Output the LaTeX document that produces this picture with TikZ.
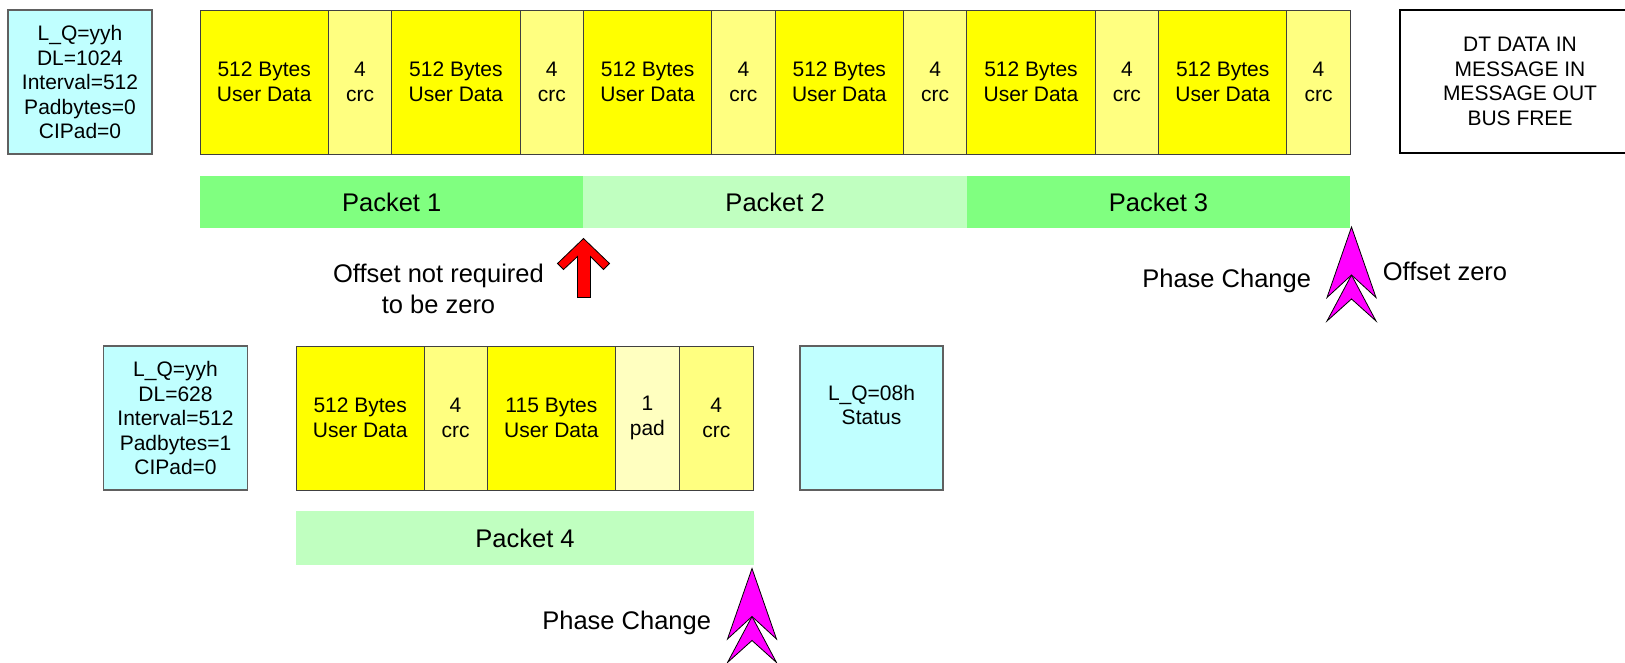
\documentclass[tikz,border=0pt]{standalone}
\usepackage{fontspec}
\setmainfont{Liberation Sans}
\definecolor{cyanbox}{HTML}{C0FFFF}
\definecolor{yel}{HTML}{FFFF00}
\definecolor{crcyel}{HTML}{FFFF80}
\definecolor{padyel}{HTML}{FFFFC0}
\definecolor{pkA}{HTML}{80FF80}
\definecolor{pkB}{HTML}{C0FFC0}
\definecolor{edge}{HTML}{404040}
\definecolor{cyedge}{HTML}{606060}
\definecolor{mag}{HTML}{FF00FF}
\definecolor{redarrow}{HTML}{FF0000}
\newcommand\fsA{\fontsize{21}{24.5}\selectfont}
\newcommand\fsB{\fontsize{25.5}{30.5}\selectfont}
\begin{document}
\begin{tikzpicture}[x=1pt,y=-1pt,
 base/.style={inner sep=0pt, outer sep=0pt, align=center, font=\fsA},
 cell/.style={base, anchor=north west, draw=edge, line width=1pt, minimum height=144},
 datacell/.style={cell, fill=yel, minimum width=128.4},
 crccell/.style={cell, fill=crcyel, minimum width=63.3},
 infobox/.style={base, anchor=north west, fill=cyanbox, draw=cyedge, line width=1.5pt, minimum width=144, minimum height=144},
 packet/.style={base, anchor=north west, font=\fsB, minimum height=52},
 lbl/.style={base, font=\fsB},
 chev/.style={fill=mag, draw=black, line width=0.8pt, line join=miter},
 dchev/.pic={
   \draw[chev] (0,48) -- (24.5,94) -- (0,72) -- (-24.5,94) -- cycle;
   \draw[chev] (0,0) -- (24.5,70.5) -- (0,48) -- (-24.5,70.5) -- cycle;
 },
]
\useasboundingbox (0,0) rectangle (1625,662);
\clip (0,0) rectangle (1625,662);

% top row
\node[infobox] (info1) at (8,10) {L\_Q=yyh\\DL=1024\\Interval=512\\Padbytes=0\\CIPad=0};
\node[datacell] (d1) at (200,10) {512 Bytes\\User Data};
\node[crccell] (c1) at (d1.north east) {4\\crc};
\node[datacell] (d2) at (c1.north east) {512 Bytes\\User Data};
\node[crccell] (c2) at (d2.north east) {4\\crc};
\node[datacell] (d3) at (c2.north east) {512 Bytes\\User Data};
\node[crccell] (c3) at (d3.north east) {4\\crc};
\node[datacell] (d4) at (c3.north east) {512 Bytes\\User Data};
\node[crccell] (c4) at (d4.north east) {4\\crc};
\node[datacell] (d5) at (c4.north east) {512 Bytes\\User Data};
\node[crccell] (c5) at (d5.north east) {4\\crc};
\node[datacell] (d6) at (c5.north east) {512 Bytes\\User Data};
\node[crccell] (c6) at (d6.north east) {4\\crc};
\node[base, anchor=north west, draw=black, line width=2pt, minimum width=240, minimum height=143.5] (dt) at (1400,9.5) {DT DATA IN\\MESSAGE IN\\MESSAGE OUT\\BUS FREE};

\node[packet, fill=pkA, minimum width=383.4] (p1) at (200,176) {Packet 1};
\node[packet, fill=pkB, minimum width=383.4] (p2) at (p1.north east) {Packet 2};
\node[packet, fill=pkA, minimum width=383.5] (p3) at (p2.north east) {Packet 3};

% red arrow
\draw[shift={(583.5,238.5)}, fill=redarrow, draw=black, line width=0.8pt, line join=miter]
  (0,0) -- (26,25) -- (20,31) -- (7,18) -- (7,59) -- (-6,59) -- (-6,18) -- (-20,31) -- (-26,25) -- cycle;
\node[lbl] (offtxt) at (438.5,289) {Offset not required\\to be zero};

\pic at (1351.5,227) {dchev};
\node[lbl] (pc1) at (1226.7,280.5) {Phase Change};
\node[lbl] (oz) at (1445,271.7) {Offset zero};

% bottom row
\node[infobox] (info2) at (103.5,346) {L\_Q=yyh\\DL=628\\Interval=512\\Padbytes=1\\CIPad=0};
\node[datacell, minimum width=127.6] (e1) at (296.4,346) {512 Bytes\\User Data};
\node[crccell, minimum width=63] (e2) at (e1.north east) {4\\crc};
\node[datacell, minimum width=128.8] (e3) at (e2.north east) {115 Bytes\\User Data};
\node[cell, fill=padyel, minimum width=63.2] (e4) at (e3.north east) {1\\pad};
\node[crccell, minimum width=74.6] (e5) at (e4.north east) {4\\crc};
\node[infobox, minimum width=143] (status) at (800,346) {};
\node[base] (stxt) at (871.5,405) {L\_Q=08h\\Status};

\node[packet, fill=pkB, minimum width=457.2, minimum height=54] (p4) at (296.4,511) {Packet 4};
\pic at (752,568.5) {dchev};
\node[lbl] (pc2) at (626.7,623) {Phase Change};
\end{tikzpicture}
\end{document}
